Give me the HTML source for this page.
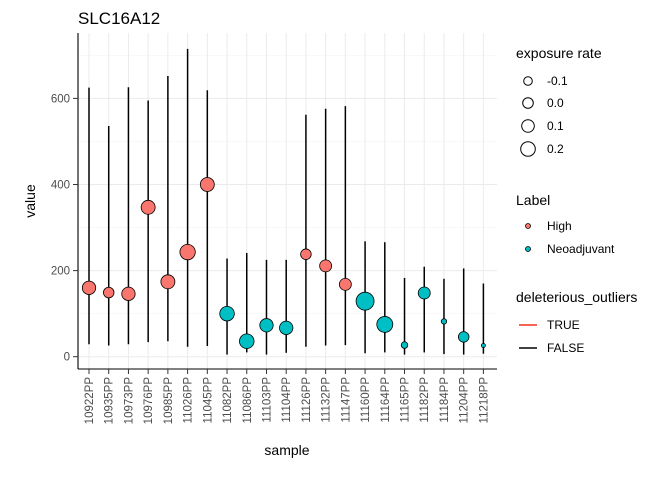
<!DOCTYPE html>
<html><head><meta charset="utf-8"><style>
body{margin:0;background:#fff;}
svg{font-family:"Liberation Sans",sans-serif;}
</style></head><body>
<svg id="chart" width="672" height="480" viewBox="0 0 672 480">
<text x="78" y="24" font-size="17" fill="#000">SLC16A12</text>
<g id="grid"></g>
<g id="bars"></g>
<g id="pts"></g>
<line x1="78" y1="33" x2="78" y2="369" stroke="#000" stroke-width="1.1"/>
<line x1="78" y1="369" x2="497" y2="369" stroke="#000" stroke-width="1.1"/>
<g id="axes"></g>
<text x="287" y="455" font-size="14" text-anchor="middle">sample</text>
<text transform="translate(35,201) rotate(-90)" font-size="14" text-anchor="middle">value</text>
<g font-size="12">
<text x="516" y="58" font-size="14">exposure rate</text>
<circle cx="528" cy="81" r="4.3" fill="none" stroke="#000"/>
<text x="547" y="85">-0.1</text>
<circle cx="528" cy="103" r="5.3" fill="none" stroke="#000"/>
<text x="547" y="107">0.0</text>
<circle cx="528" cy="126" r="6.3" fill="none" stroke="#000"/>
<text x="547" y="130">0.1</text>
<circle cx="528" cy="149" r="7.3" fill="none" stroke="#000"/>
<text x="547" y="153">0.2</text>
<text x="516" y="205" font-size="14">Label</text>
<circle cx="528" cy="226" r="2.5" fill="#F8766D" stroke="#000" stroke-width="0.8"/>
<text x="547" y="230">High</text>
<circle cx="528" cy="249" r="2.5" fill="#00BFC4" stroke="#000" stroke-width="0.8"/>
<text x="547" y="253">Neoadjuvant</text>
<text x="516" y="302" font-size="14">deleterious_outliers</text>
<line x1="519" y1="325" x2="537" y2="325" stroke="#F8301D" stroke-width="1.5"/>
<text x="547" y="329">TRUE</text>
<line x1="519" y1="348" x2="537" y2="348" stroke="#000" stroke-width="1.5"/>
<text x="547" y="352">FALSE</text>
</g>
</svg>
<script>
const samples=["10922PP","10935PP","10973PP","10976PP","10985PP","11026PP","11045PP","11082PP","11086PP","11103PP","11104PP","11126PP","11132PP","11147PP","11160PP","11164PP","11165PP","11182PP","11184PP","11204PP","11218PP"];
const labels=["High","High","High","High","High","High","High","Neoadjuvant","Neoadjuvant","Neoadjuvant","Neoadjuvant","High","High","High","Neoadjuvant","Neoadjuvant","Neoadjuvant","Neoadjuvant","Neoadjuvant","Neoadjuvant","Neoadjuvant"];
const values=[160,149,146,347,174,243,400,100,36,73,67,238,211,168,129,75,27,148,82,46,26];
const upper=[625,536,626,595,652,715,619,228,241,225,225,562,576,582,268,266,183,209,181,205,170];
const lower=[29,26,29,34,36,23,25,5,10,5,9,23,26,27,8,10,5,10,6,5,7];
const exposure=[0.14,0,0.14,0.17,0.17,0.24,0.17,0.2,0.2,0.14,0.14,0,0.07,0.07,0.37,0.27,-0.2,0.07,-0.26,0,-0.33];
const yTicks=[0,200,400,600];
const yMinor=[100,300,500,700];
const NS="http://www.w3.org/2000/svg";
function xS(i){return 89+i*19.72;}
function yS(v){return 356.7-v*0.4305;}
function rS(e){return Math.max(1.5,5.3+e*10);}
function mk(t,a,p){const e=document.createElementNS(NS,t);for(const k in a)e.setAttribute(k,a[k]);p.appendChild(e);return e;}
const grid=document.getElementById('grid'),axes=document.getElementById('axes'),bars=document.getElementById('bars'),pts=document.getElementById('pts');
yMinor.forEach(v=>{const l=mk('line',{x1:78,x2:497,y1:yS(v),y2:yS(v),stroke:'#f3f3f3','stroke-width':0.6},grid);

});
yTicks.forEach(v=>{const l=mk('line',{x1:78,x2:497,y1:yS(v),y2:yS(v),stroke:'#ebebeb','stroke-width':1},grid);


const t=mk('line',{x1:73,x2:78,y1:yS(v),y2:yS(v),stroke:'#333'},axes);


const tx=mk('text',{x:70,y:yS(v)+4,'text-anchor':'end','font-size':11.5,fill:'#4d4d4d'},axes);tx.textContent=v;

});
samples.forEach((s,i)=>{const x=xS(i);
const g=mk('line',{x1:x,x2:x,y1:33,y2:369,stroke:'#ebebeb'},grid);


const t=mk('line',{x1:x,x2:x,y1:369,y2:374,stroke:'#333'},axes);


const tx=mk('text',{transform:`translate(${x+4},377) rotate(-90)`,'text-anchor':'end','font-size':11.5,fill:'#4d4d4d'},axes);tx.textContent=s;


const b=mk('line',{x1:x,x2:x,y1:yS(upper[i]),y2:yS(lower[i]),stroke:'#000','stroke-width':1.5},bars);


const c=mk('circle',{cx:x,cy:yS(values[i]),r:rS(exposure[i]),fill:labels[i]==='High'?'#F8766D':'#00BFC4',stroke:'#000','stroke-width':0.8},pts);

});
</script>
</body></html>
